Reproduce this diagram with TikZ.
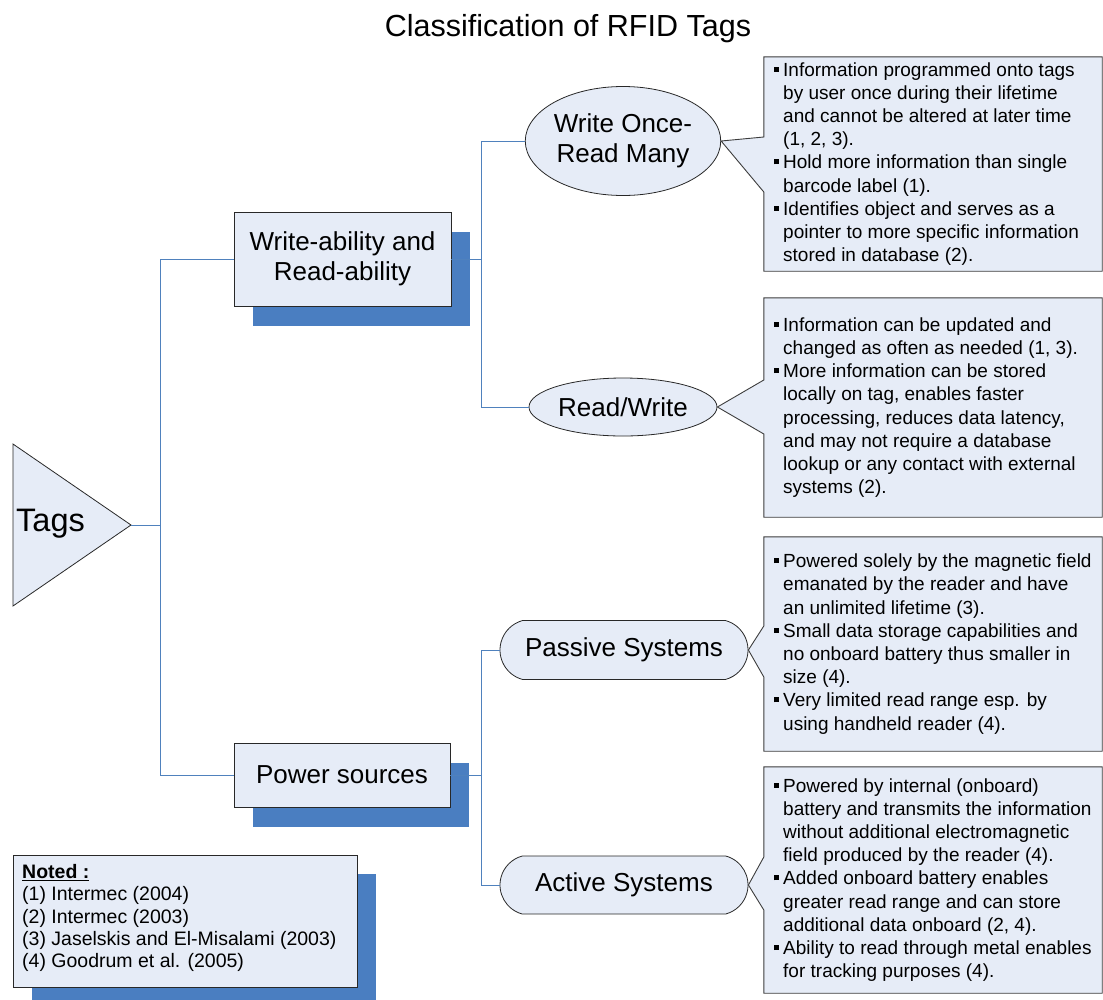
\documentclass[tikz,border=0pt]{standalone}
\usepackage{fontspec}
\setmainfont{Liberation Sans}
\usetikzlibrary{shapes.geometric,shapes.misc,shadows}

\definecolor{boxfill}{RGB}{230,236,247}
\definecolor{shadeblue}{RGB}{74,126,193}
\definecolor{linkblue}{RGB}{79,129,189}
\definecolor{edge}{RGB}{40,40,40}

\newcommand\bul{\makebox[9pt][l]{\rule[4.5pt]{5pt}{5pt}}}
\newcommand\ind{\hspace*{9pt}}

\tikzset{
  link/.style={draw=linkblue, line width=0.8pt},
  catbox/.style={draw=edge, fill=boxfill, line width=0.8pt, inner sep=0pt,
    align=center, font=\fontsize{26}{30}\selectfont,
    general shadow={fill=shadeblue, shadow xshift=19pt, shadow yshift=-20pt}},
  oval/.style={ellipse, draw=edge, fill=boxfill, line width=0.8pt, inner sep=0pt,
    minimum width=188pt, align=center, font=\fontsize{26}{30}\selectfont},
  pill/.style={rounded rectangle, rounded rectangle arc length=150, draw=edge,
    fill=boxfill, line width=0.8pt, inner sep=0pt, minimum width=248pt,
    font=\fontsize{26}{30}\selectfont},
  calloutframe/.style={draw=edge!90, fill=boxfill, line width=0.9pt},
  callarea/.style={inner sep=0pt, minimum width=338pt},
  bullets/.style={inner sep=0pt, align=left, anchor=west,
    font=\fontsize{19}{23.2}\selectfont},
}

\begin{document}
\begin{tikzpicture}[x=1pt, y=-1pt]
\useasboundingbox (0,0) rectangle (1103,999);

% title
\node[font=\fontsize{30.5}{34}\selectfont] (title) at (568,29) {Classification of RFID Tags};

% root triangle
\coordinate (tagtip) at (131,525);
\filldraw[draw=edge, fill=boxfill, line width=0.8pt] (13,444) -- (tagtip) -- (13,606) -- cycle;
\node[font=\fontsize{32.5}{36}\selectfont, anchor=west, inner sep=0pt] (tags) at (16,524) {Tags};

% first level categories
\node[catbox, minimum width=217pt, minimum height=94pt] (wr) at (342.5,259) {Write-ability and\\Read-ability};
\node[catbox, minimum width=216pt, minimum height=64pt] (pw) at (342,775) {Power sources};

% second level
\node[oval, minimum height=109pt] (wo) at (623,141) {Write Once-\\Read Many};
\node[oval, minimum height=58pt] (rw) at (623,407) {Read/Write};
\node[pill, minimum height=59pt] (pa) at (624,650) {Passive Systems};
\node[pill, minimum height=58pt] (ac) at (624,885) {Active Systems};

% connectors
\draw[link] (tagtip) -- (160,525) coordinate (j0);
\draw[link] (wr.west) -| (j0);
\draw[link] (pw.west) -| (j0);
\draw[link] (wr.east) -- (481,259) coordinate (j1);
\draw[link] (wo.west) -| (j1);
\draw[link] (rw.west) -| (j1);
\draw[link] (pw.east) -- (481,775) coordinate (j2);
\draw[link] (pa.west) -| (j2);
\draw[link] (ac.west) -| (j2);

% callout areas
\node[callarea, minimum height=214pt] (c1) at (933,164) {};
\node[callarea, minimum height=219pt] (c2) at (933,407.5) {};
\node[callarea, minimum height=214pt] (c3) at (933,644) {};
\node[callarea, minimum height=226pt] (c4) at (933,880) {};

\draw[calloutframe] (c1.north west) -- (c1.north east) -- (c1.south east) -- (c1.south west)
  -- (c1.west |- 0,192) -- (wo.east) -- (c1.west |- 0,137) -- cycle;
\draw[calloutframe] (c2.north west) -- (c2.north east) -- (c2.south east) -- (c2.south west)
  -- (c2.west |- 0,434) -- (rw.east) -- (c2.west |- 0,380) -- cycle;
\draw[calloutframe] (c3.north west) -- (c3.north east) -- (c3.south east) -- (c3.south west)
  -- (c3.west |- 0,677) -- (pa.east) -- (c3.west |- 0,626) -- cycle;
\draw[calloutframe] (c4.north west) -- (c4.north east) -- (c4.south east) -- (c4.south west)
  -- (c4.west |- 0,910) -- (ac.east) -- (c4.west |- 0,857) -- cycle;

\node[bullets] (t1) at (774,164) {%
\bul Information programmed onto tags\\
\ind by user once during their lifetime\\
\ind and cannot be altered at later time\\
\ind (1, 2, 3).\\
\bul Hold more information than single\\
\ind barcode label (1).\\
\bul Identifies object and serves as a\\
\ind pointer to more specific information\\
\ind stored in database (2).};

\node[bullets] (t2) at (774,407.5) {%
\bul Information can be updated and\\
\ind changed as often as needed (1, 3).\\
\bul More information can be stored\\
\ind locally on tag, enables faster\\
\ind processing, reduces data latency,\\
\ind and may not require a database\\
\ind lookup or any contact with external\\
\ind systems (2).};

\node[bullets] (t3) at (774,644) {%
\bul Powered solely by the magnetic field\\
\ind emanated by the reader and have\\
\ind an unlimited lifetime (3).\\
\bul Small data storage capabilities and\\
\ind no onboard battery thus smaller in\\
\ind size (4).\\
\bul Very limited read range esp. by\\
\ind using handheld reader (4).};

\node[bullets] (t4) at (774,880) {%
\bul Powered by internal (onboard)\\
\ind battery and transmits the information\\
\ind without additional electromagnetic\\
\ind field produced by the reader (4).\\
\bul Added onboard battery enables\\
\ind greater read range and can store\\
\ind additional data onboard (2, 4).\\
\bul Ability to read through metal enables\\
\ind for tracking purposes (4).};

% references
\node[draw=edge, fill=boxfill, line width=0.8pt, inner sep=0pt,
  minimum width=344pt, minimum height=132pt,
  general shadow={fill=shadeblue, shadow xshift=19pt, shadow yshift=-19pt}] (notes) at (185,921) {};
\node[inner sep=0pt, align=left, anchor=west, font=\fontsize{19.5}{22.3}\selectfont] (reflist) at (22,918) {%
\textbf{\underline{Noted :}}\\
(1) Intermec (2004)\\
(2) Intermec (2003)\\
(3) Jaselskis and El-Misalami (2003)\\
(4) Goodrum et al. (2005)};
\end{tikzpicture}
\end{document}
